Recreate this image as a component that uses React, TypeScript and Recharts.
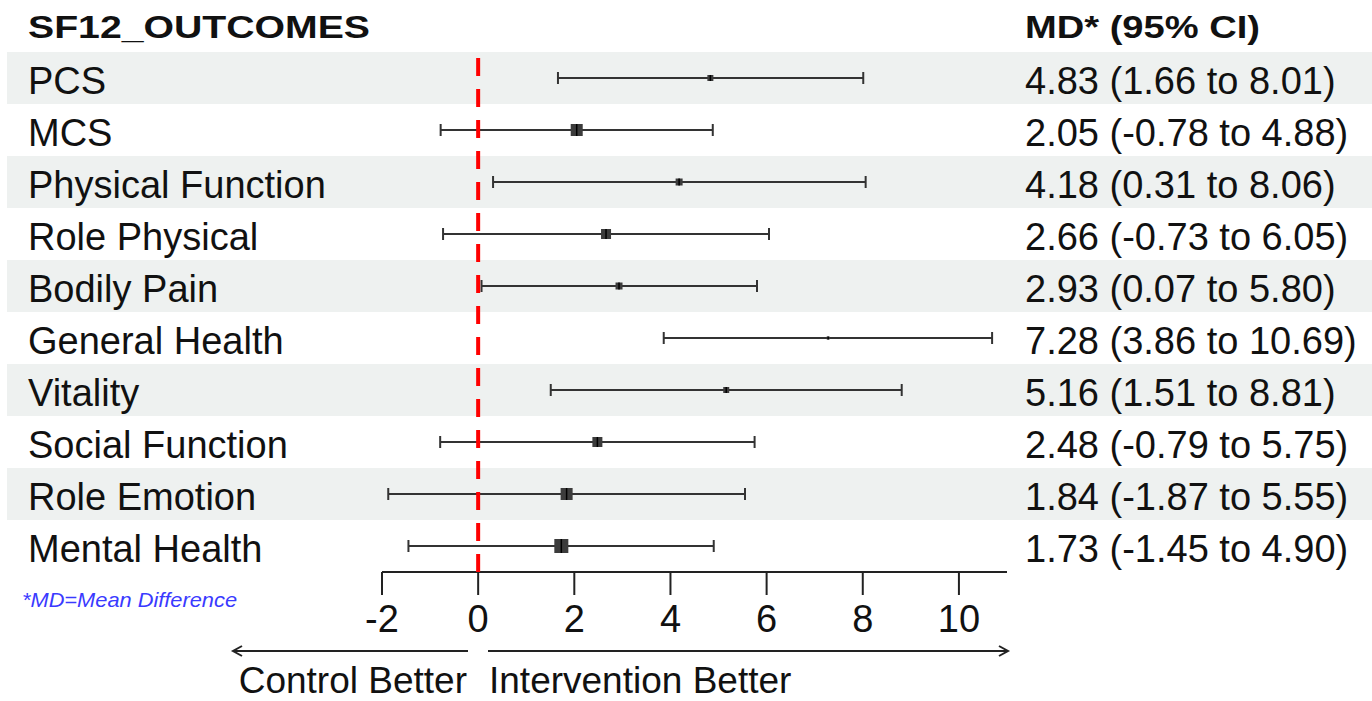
import { ScatterChart, Scatter, XAxis, YAxis, ErrorBar, ReferenceArea, ReferenceLine } from 'recharts';

const outcomes = [
  'PCS', 'MCS', 'Physical Function', 'Role Physical', 'Bodily Pain',
  'General Health', 'Vitality', 'Social Function', 'Role Emotion', 'Mental Health',
];
const md = [4.83, 2.05, 4.18, 2.66, 2.93, 7.28, 5.16, 2.48, 1.84, 1.73];
const ciLow = [1.66, -0.78, 0.31, -0.73, 0.07, 3.86, 1.51, -0.79, -1.87, -1.45];
const ciHigh = [8.01, 4.88, 8.06, 6.05, 5.8, 10.69, 8.81, 5.75, 5.55, 4.9];
// relative study weight
const boxWeight = [6, 12, 7, 10, 7, 3, 6, 10, 12, 14];
const xTicks = [-2, 0, 2, 4, 6, 8, 10];

const fmt = (v: number) => v.toFixed(2);
const ciText = outcomes.map((_, i) => `${fmt(md[i])} (${fmt(ciLow[i])} to ${fmt(ciHigh[i])})`);

const data = outcomes.map((name, i) => ({
  name,
  x: md[i],
  y: i,
  err: [md[i] - ciLow[i], ciHigh[i] - md[i]],
  w: boxWeight[i],
}));

const rowIdx = outcomes.map((_, i) => i);
const shaded = rowIdx.filter(i => i % 2 === 0);

const FONT = "'Liberation Sans', Arial, sans-serif";

function Box(props: any) {
  const { cx, cy, payload } = props;
  const s = payload.w;
  return (
    <g>
      <rect x={cx - s / 2} y={cy - s / 2} width={s} height={s} fill="#3c3c3c" />
      <line x1={cx} x2={cx} y1={cy - s / 2} y2={cy + s / 2} stroke="#000" strokeWidth={1.5} />
    </g>
  );
}

function Band(props: any) {
  return <rect x={7} y={props.y} width={1365} height={props.height} fill="#eef1f0" />;
}

// row label on the left and MD (CI) text on the right, both at the row's y
function RowTick(props: any) {
  const { y, payload } = props;
  return (
    <g fontSize={38} fill="#111" fontFamily={FONT}>
      <text x={28} y={y} dy={16} textAnchor="start">{outcomes[payload.value]}</text>
      <text x={1025} y={y} dy={16} textAnchor="start">{ciText[payload.value]}</text>
    </g>
  );
}

export default function App() {
  return (
    <div style={{ position: 'absolute', left: 0, top: 0, width: 1372, height: 701, background: '#fff', fontFamily: FONT }}>
      <ScatterChart width={1372} height={701} margin={{ top: 52, right: 365, bottom: 49, left: 0 }}>
        {shaded.map(i => (
          <ReferenceArea key={i} yAxisId="left" y1={i - 0.5} y2={i + 0.5} shape={Band} ifOverflow="visible" />
        ))}
        <XAxis
          type="number"
          dataKey="x"
          domain={[-2, 11]}
          ticks={xTicks}
          height={80}
          tickSize={23}
          tickMargin={10}
          axisLine={{ stroke: '#222', strokeWidth: 2 }}
          tickLine={{ stroke: '#222', strokeWidth: 2 }}
          tick={{ fontSize: 38, fill: '#111' }}
        />
        <YAxis
          yAxisId="left"
          type="number"
          dataKey="y"
          domain={[-0.5, 9.5]}
          reversed
          ticks={rowIdx}
          interval={0}
          width={382}
          axisLine={false}
          tickLine={false}
          tick={RowTick}
        />
        <Scatter yAxisId="left" data={data} shape={Box} isAnimationActive={false}>
          <ErrorBar dataKey="err" direction="x" width={6} stroke="#333" strokeWidth={2} isAnimationActive={false} />
        </Scatter>
        <ReferenceLine yAxisId="left" x={0} stroke="#ff0000" strokeWidth={4} strokeDasharray="18 13" zIndex={700} />
      </ScatterChart>
      <svg width={1372} height={701} style={{ position: 'absolute', left: 0, top: 0, pointerEvents: 'none' }} fontFamily={FONT}>
        <text x={28} y={38} fontSize={32} fontWeight="bold" fill="#111" textLength={342} lengthAdjust="spacingAndGlyphs">SF12_OUTCOMES</text>
        <text x={1025} y={38} fontSize={32} fontWeight="bold" fill="#111" textLength={235} lengthAdjust="spacingAndGlyphs">MD* (95% CI)</text>
        <text x={22} y={607} fontSize={21} fontStyle="italic" fill="#3a3aff" textLength={215} lengthAdjust="spacingAndGlyphs">*MD=Mean Difference</text>
        <g stroke="#222" strokeWidth={2} fill="none">
          <line x1={233} y1={651} x2={468} y2={651} />
          <polyline points="242,646 233,651 242,656" />
          <line x1={488} y1={651} x2={1008} y2={651} />
          <polyline points="999,646 1008,651 999,656" />
        </g>
        <text x={467} y={693} fontSize={37} fill="#111" textAnchor="end">Control Better</text>
        <text x={489} y={693} fontSize={37} fill="#111" textAnchor="start">Intervention Better</text>
      </svg>
    </div>
  );
}
